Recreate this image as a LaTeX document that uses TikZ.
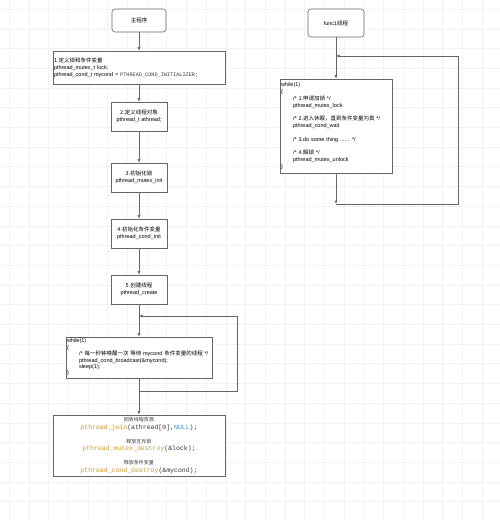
\documentclass[tikz,border=0pt]{standalone}
\usepackage{fontspec}
\setmainfont{Liberation Sans}
\setmonofont{Liberation Mono}
\newfontfamily\cjk{Noto Sans CJK SC}
\usetikzlibrary{arrows.meta,positioning}

\definecolor{linegray}{HTML}{666666}
\definecolor{gridgray}{HTML}{F3F3F3}
\definecolor{codegray}{HTML}{3A3A3A}
\definecolor{funcgold}{HTML}{C99A2E}
\definecolor{nullblue}{HTML}{3D8FD1}

\newcommand{\zh}[1]{{\cjk #1}}
\newcommand{\zhsmall}[1]{{\cjk\fontsize{5}{6}\selectfont #1}}
\newcommand{\fn}[1]{\textcolor{funcgold}{#1}}

\tikzset{
  box/.style={draw=linegray, line width=0.6pt, fill=white, inner sep=1pt,
    font=\fontsize{5.5}{6.8}\selectfont},
  startbox/.style={box, rounded corners=3pt, align=center},
  stepbox/.style={box, minimum width=56pt, minimum height=29pt, align=center},
  codebox/.style={box, align=left},
  flow/.style={draw=linegray, line width=0.6pt, -{Latex[length=3.5pt,width=3pt]}},
  gridline/.style={draw=gridgray, line width=0.3pt}
}

\begin{document}
\begin{tikzpicture}[x=1pt,y=-1pt]
  \useasboundingbox (0,0) rectangle (500,520);
  \fill[white] (0,0) rectangle (500,520);
  \foreach \g in {9,28.7,...,520}
    \draw[gridline] (\g,0) -- (\g,520) (0,\g) -- (500,\g);

  % main thread
  \node[startbox, minimum width=54pt, minimum height=23pt] (main) at (139,20.5) {\zh{主程序}};

  \node[codebox, below=18.4pt of main, text width=170pt, minimum height=33pt] (b1)
    {\zh{1.定义锁和条件变量}\\
     pthread\_mutex\_t lock;\\
     \mbox{pthread\_cond\_t mycond = {\ttfamily\fontsize{5.2}{6}\selectfont\color{codegray}PTHREAD\_COND\_INITIALIZER;}}};

  \node[stepbox, below=17.4pt of b1] (b2) {\zh{2.定义线程对象}\\pthread\_t athread;};
  \node[stepbox, below=31.4pt of b2] (b3) {\zh{3.初始化锁}\\pthread\_mutex\_init};
  \node[stepbox, below=26.4pt of b3] (b4) {\zh{4.初始化条件变量}\\pthread\_cond\_init};
  \node[stepbox, below=26.4pt of b4] (b5) {\zh{5.创建线程}\\pthread\_create};

  \node[codebox, below=32.4pt of b5, text width=144pt, minimum height=41pt,
    font=\fontsize{5.5}{6.4}\selectfont] (wl)
    {while(1)\\
     \{\\
     \hspace*{12pt}\mbox{/* \zh{每一秒钟唤醒一次 等待} mycond \zh{条件变量的线程} */}\\
     \hspace*{12pt}pthread\_cond\_broadcast(\&mycond);\\
     \hspace*{12pt}sleep(1);\\
     \}};

  \node[box, align=center, below=36.4pt of wl, text width=170pt, minimum height=61pt,
    font=\ttfamily\fontsize{6.5}{7.5}\selectfont\color{codegray}] (fin)
    {\zhsmall{回收线程资源}\\
     \fn{pthread\_join}(athread[0],\textcolor{nullblue}{NULL});\\[6.5pt]
     \zhsmall{释放互斥锁}\\
     \fn{pthread\_mutex\_destroy}(\&lock);\\[6.5pt]
     \zhsmall{释放条件变量}\\
     \fn{pthread\_cond\_destroy}(\&mycond);};

  % func1 thread
  \node[startbox, minimum width=56pt, minimum height=28pt] (func) at (336,23) {func1\zh{线程}};

  \node[codebox, below=41.4pt of func, text width=110pt, minimum height=94pt] (wr)
    {while(1)\\
     \{\\
     \hspace*{12pt}/* 1.\zh{申请加锁} */\\
     \hspace*{12pt}pthread\_mutex\_lock\\[6.8pt]
     \hspace*{12pt}\mbox{/* 2.\zh{进入休眠，直到条件变量为真} */}\\
     \hspace*{12pt}pthread\_cond\_wait\\[6.8pt]
     \hspace*{12pt}/* 3.do some thing ...... */\\[6.8pt]
     \hspace*{12pt}/* 4.\zh{解锁} */\\
     \hspace*{12pt}pthread\_mutex\_unlock\\
     \}};

  \coordinate (lt) at (139,316);
  \coordinate (lj) at (139,391);
  \coordinate (rt) at (336,56);
  \coordinate (rj) at (336,204);

  \draw[flow] (main) -- (b1);
  \draw[flow] (b1) -- (b2);
  \draw[flow] (b2) -- (b3);
  \draw[flow] (b3) -- (b4);
  \draw[flow] (b4) -- (b5);
  \draw[flow] (b5) -- (wl);
  \draw[flow] (wl) -- (fin);
  \draw[flow] (lj) -- ++(98,0) |- (lt);

  \draw[flow] (func) -- (wr);
  \draw[flow] (wr) -- (rj);
  \draw[flow] (rj) -- ++(122,0) |- (rt);
\end{tikzpicture}
\end{document}
